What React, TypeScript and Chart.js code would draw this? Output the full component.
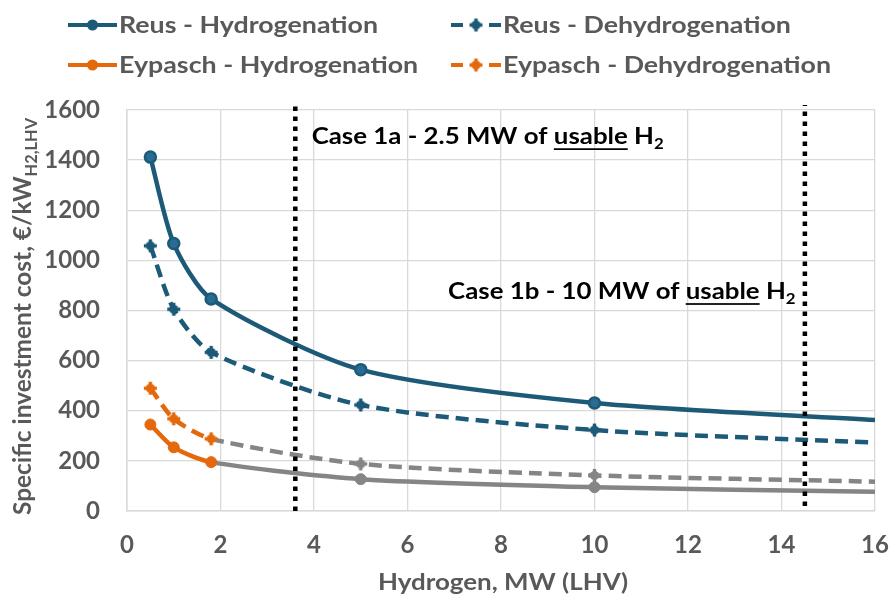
import React, { useEffect, useRef } from "react";
import { Chart, registerables } from "chart.js";

Chart.register(...registerables);

// ---------- data ----------
const xValues = [0.5, 1, 1.8, 5, 10, 16];
const reusHydrogenation = [1412, 1067, 846, 564, 431, 363];
const reusDehydrogenation = [1058, 805, 633, 423, 323, 273];
const eypaschHydrogenation = [345, 254, 195, 127, 95, 77];
const eypaschDehydrogenation = [490, 368, 288, 188, 142, 117];
const markerVisible = [1, 1, 1, 1, 1, 0];
const seriesLabels = [
  "Reus - Hydrogenation",
  "Reus - Dehydrogenation",
  "Eypasch - Hydrogenation",
  "Eypasch - Dehydrogenation",
];
const eypaschMeasuredUpTo = 1.8;
const caseLinePositions = [3.6, 14.5];
const caseLineSpans = [
  [0, 1620],
  [20, 1620],
];
const xAxisRange = [0, 16, 2];
const yAxisRange = [0, 1600, 200];
const xAxisTitle = "Hydrogen, MW (LHV)";
const yAxisTitleMain = "Specific investment cost, €/kW";
const yAxisTitleSub = "H2,LHV";
const caseTexts = [
  { pre: "Case 1a - 2.5 MW of ", ul: "usable", post: " H", sub: "2", x: 3.95, y: 1496, align: "left" },
  { pre: "Case 1b - 10 MW of ", ul: "usable", post: " H", sub: "2", x: 14.3, y: 878, align: "right" },
];

// ---------- style ----------
const TEAL = "#1c5a78";
const TEAL_FILL = "#2a6b93";
const ORANGE = "#e4690c";
const GRAY = "#858585";
const TEXT = "#595959";
const GRID = "#d9d9d9";
const FONT = "Lato, 'Open Sans', 'Noto Sans', sans-serif";
const TENSION = 0.25;

type Run = { text: string; sub?: boolean; underline?: boolean };

function runFont(size: number, sub?: boolean, subRatio = 0.66) {
  return `bold ${sub ? size * subRatio : size}px ${FONT}`;
}
function measureRuns(ctx: CanvasRenderingContext2D, runs: Run[], size: number, subRatio = 0.66) {
  let w = 0;
  for (const r of runs) {
    ctx.font = runFont(size, r.sub, subRatio);
    w += ctx.measureText(r.text).width;
  }
  return w;
}
function drawRuns(
  ctx: CanvasRenderingContext2D,
  runs: Run[],
  size: number,
  sx: number,
  color: string,
  subRatio = 0.66,
  subShift = 0.22
) {
  ctx.save();
  ctx.scale(sx, 1);
  let cx = 0;
  ctx.fillStyle = color;
  ctx.textBaseline = "alphabetic";
  ctx.textAlign = "left";
  for (const r of runs) {
    ctx.font = runFont(size, r.sub, subRatio);
    const dy = r.sub ? size * subShift : 0;
    ctx.fillText(r.text, cx, dy);
    const w = ctx.measureText(r.text).width;
    if (r.underline) ctx.fillRect(cx, size * 0.17, w, Math.max(1.5, size * 0.075));
    cx += w;
  }
  ctx.restore();
}

function makeCrossMarker(color: string) {
  const c = document.createElement("canvas");
  c.width = 15;
  c.height = 15;
  const g = c.getContext("2d")!;
  g.fillStyle = color;
  g.beginPath();
  g.arc(7.5, 7.5, 4.6, 0, Math.PI * 2);
  g.fill();
  g.fillRect(5.8, 1, 3.4, 13);
  g.fillRect(1, 5.8, 13, 3.4);
  return c;
}

export default function App() {
  const ref = useRef<HTMLCanvasElement | null>(null);

  useEffect(() => {
    const canvas = ref.current;
    if (!canvas) return;
    document.body.style.margin = "0";

    const crossTeal = makeCrossMarker(TEAL);
    const crossOrange = makeCrossMarker(ORANGE);
    const crossGray = makeCrossMarker(GRAY);

    const pts = (ys: number[]) => xValues.map((x, i) => ({ x, y: ys[i] }));
    const radii = (r: number) => markerVisible.map((v) => (v ? r : 0));
    const eypColor = (x: number) => (x <= eypaschMeasuredUpTo + 1e-9 ? ORANGE : GRAY);

    const legendMarkers: any[] = [
      { color: TEAL, dashed: false, marker: "circle" },
      { color: TEAL, dashed: true, marker: crossTeal },
      { color: ORANGE, dashed: false, marker: "circle" },
      { color: ORANGE, dashed: true, marker: crossOrange },
    ];

    const decor = {
      id: "decor",
      afterDatasetsDraw(chart: any) {
        const ctx: CanvasRenderingContext2D = chart.ctx;
        const xs = chart.scales.x;
        const ys = chart.scales.y;

        const annSize = 23;
        ctx.save();
        let annSx = 1;
        caseTexts.forEach((c, idx) => {
          const runs: Run[] = [
            { text: c.pre },
            { text: c.ul, underline: true },
            { text: c.post },
            { text: c.sub, sub: true },
          ];
          const w = measureRuns(ctx, runs, annSize, 0.65);
          if (idx === 0) annSx = 352 / w;
          const px = xs.getPixelForValue(c.x);
          const py = ys.getPixelForValue(c.y);
          const left = c.align === "left" ? px : px - w * annSx;
          ctx.save();
          ctx.translate(left, py + annSize * 0.36);
          drawRuns(ctx, runs, annSize, annSx, "#000000", 0.65, 0.22);
          ctx.restore();
        });
        ctx.restore();
      },
      afterDraw(chart: any) {
        const ctx: CanvasRenderingContext2D = chart.ctx;

        // legend
        const lgSize = 23;
        ctx.save();
        ctx.font = runFont(lgSize);
        const lgSx = 259 / ctx.measureText(seriesLabels[0]).width;
        const rowsY = [25, 65];
        const cols = [
          { x0: 68, x1: 117, tx: 119 },
          { x0: 451, x1: 501, tx: 503 },
        ];
        seriesLabels.forEach((label, i) => {
          const col = cols[i % 2];
          const y = rowsY[Math.floor(i / 2)];
          const m = legendMarkers[i];
          ctx.strokeStyle = m.color;
          ctx.lineWidth = 4;
          ctx.lineCap = "butt";
          ctx.beginPath();
          if (m.dashed) {
            ctx.moveTo(col.x0, y);
            ctx.lineTo(col.x0 + 12, y);
            ctx.moveTo(col.x1 - 12, y);
            ctx.lineTo(col.x1, y);
          } else {
            ctx.moveTo(col.x0, y);
            ctx.lineTo(col.x1, y);
          }
          ctx.stroke();
          const cx = (col.x0 + col.x1) / 2;
          if (m.marker === "circle") {
            ctx.fillStyle = m.color;
            ctx.beginPath();
            ctx.arc(cx, y, 5.5, 0, Math.PI * 2);
            ctx.fill();
          } else {
            ctx.drawImage(m.marker, cx - m.marker.width / 2, y - m.marker.height / 2);
          }
          ctx.save();
          ctx.translate(col.tx, y + lgSize * 0.36);
          drawRuns(ctx, [{ text: label }], lgSize, lgSx, TEXT);
          ctx.restore();
        });
        ctx.restore();

        // x axis title
        const xtSize = 23;
        ctx.save();
        ctx.font = runFont(xtSize);
        const xtW = ctx.measureText(xAxisTitle).width;
        const xtSx = 250 / xtW;
        ctx.translate(503 - 125, 582 + xtSize * 0.36);
        drawRuns(ctx, [{ text: xAxisTitle }], xtSize, xtSx, TEXT);
        ctx.restore();

        // y axis title
        const ytSize = 24;
        const ytRuns: Run[] = [{ text: yAxisTitleMain }, { text: yAxisTitleSub, sub: true }];
        ctx.save();
        const ytW = measureRuns(ctx, ytRuns, ytSize, 0.67);
        const ytSx = 397 / ytW;
        ctx.translate(31, 515);
        ctx.rotate(-Math.PI / 2);
        drawRuns(ctx, ytRuns, ytSize, ytSx, TEXT, 0.67, 0.25);
        ctx.restore();
      },
    };

    const datasets: any[] = [
      {
        label: seriesLabels[0],
        data: pts(reusHydrogenation),
        borderColor: TEAL,
        backgroundColor: TEAL,
        borderWidth: 4.5,
        tension: TENSION,
        pointStyle: "circle",
        pointRadius: radii(5.5),
        pointBackgroundColor: TEAL_FILL,
        pointBorderColor: TEAL,
        pointBorderWidth: 2.5,
        order: 1,
      },
      {
        label: seriesLabels[1],
        data: pts(reusDehydrogenation),
        borderColor: TEAL,
        backgroundColor: TEAL,
        borderWidth: 4.5,
        borderDash: [13, 7],
        tension: TENSION,
        pointStyle: crossTeal,
        pointRadius: radii(5),
        order: 2,
      },
      {
        label: seriesLabels[2],
        data: pts(eypaschHydrogenation),
        borderColor: ORANGE,
        backgroundColor: ORANGE,
        borderWidth: 4.5,
        tension: TENSION,
        segment: { borderColor: (c: any) => eypColor(c.p1.parsed.x) },
        pointStyle: "circle",
        pointRadius: radii(5.5),
        pointBackgroundColor: xValues.map(eypColor),
        pointBorderColor: xValues.map(eypColor),
        pointBorderWidth: 1,
        order: 3,
      },
      {
        label: seriesLabels[3],
        data: pts(eypaschDehydrogenation),
        borderColor: ORANGE,
        backgroundColor: ORANGE,
        borderWidth: 4.5,
        borderDash: [13, 7],
        tension: TENSION,
        segment: { borderColor: (c: any) => eypColor(c.p1.parsed.x) },
        pointStyle: xValues.map((x) => (x <= eypaschMeasuredUpTo + 1e-9 ? crossOrange : crossGray)),
        pointRadius: radii(5),
        order: 4,
      },
      ...caseLinePositions.map((x, i) => ({
        label: `case-${i}`,
        data: caseLineSpans[i].map((y) => ({ x, y })),
        borderColor: "#000000",
        borderWidth: 4.5,
        borderDash: [4.5, 5.5],
        pointRadius: 0,
        tension: 0,
        clip: 12,
        order: 0,
      })),
    ];

    const chart = new Chart(canvas, {
      type: "line",
      data: { datasets },
      plugins: [decor],
      options: {
        responsive: false,
        animation: false,
        events: [],
        layout: { padding: { top: 110, right: 14, left: 0, bottom: 0 } },
        plugins: { legend: { display: false }, tooltip: { enabled: false }, title: { display: false } },
        scales: {
          x: {
            type: "linear",
            min: xAxisRange[0],
            max: xAxisRange[1],
            afterFit: (s: any) => {
              s.height = 92;
              s.paddingLeft = 0;
              s.paddingRight = 0;
            },
            ticks: {
              stepSize: xAxisRange[2],
              color: TEXT,
              padding: 20,
              maxRotation: 0,
              callback: (v: any) => String(v),
              font: { family: FONT, size: 24, weight: "bold" },
            },
            grid: { color: GRID, lineWidth: 1.3, drawTicks: false },
            border: { color: GRID, width: 1.5 },
          },
          y: {
            type: "linear",
            min: yAxisRange[0],
            max: yAxisRange[1],
            afterFit: (s: any) => {
              s.width = 127;
              s.paddingTop = 0;
              s.paddingBottom = 0;
            },
            ticks: {
              stepSize: yAxisRange[2],
              color: TEXT,
              padding: 27,
              callback: (v: any) => String(v),
              font: { family: FONT, size: 24, weight: "bold" },
            },
            grid: { color: GRID, lineWidth: 1.3, drawTicks: false },
            border: { color: GRID, width: 1.5 },
          },
        },
      } as any,
    });

    return () => chart.destroy();
  }, []);

  return (
    <div style={{ position: "absolute", left: 0, top: 0, width: 889, height: 603, background: "#ffffff" }}>
      <canvas ref={ref} width={889} height={603} style={{ display: "block" }} />
    </div>
  );
}
